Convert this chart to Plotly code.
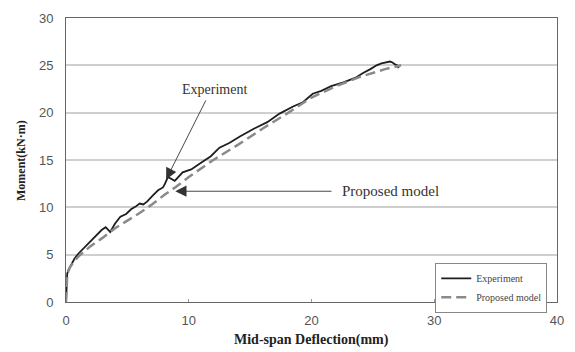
import plotly.graph_objects as go

# Experiment curve (mid-span deflection mm, moment kN·m)
exp_x = [0, 0.05, 0.1, 0.2, 0.4, 0.7, 1.0, 1.3, 1.75, 2.1, 2.56, 2.9, 3.23, 3.45, 3.6,
         4.0, 4.43, 4.9, 5.3, 5.64, 6.0, 6.3, 6.6, 7.1, 7.5, 7.9, 8.05, 8.3, 8.86, 9.5,
         10.2, 11.0, 11.8, 12.5, 13.3, 14.2, 15.3, 16.4, 17.4, 18.5, 19.3, 20.1, 20.8,
         21.6, 22.6, 23.6, 24.2, 24.8, 25.3, 25.7, 26.1, 26.4, 26.6, 26.8, 27.0, 27.1]
exp_y = [0, 1.5, 3.0, 3.4, 3.9, 4.6, 5.1, 5.5, 6.1, 6.6, 7.2, 7.6, 7.9, 7.6, 7.4,
         8.3, 9.0, 9.3, 9.8, 10.05, 10.4, 10.3, 10.6, 11.3, 11.8, 12.1, 12.45, 13.2, 12.8, 13.7,
         14.0, 14.7, 15.4, 16.3, 16.8, 17.5, 18.3, 19.0, 19.9, 20.65, 21.1, 22.0, 22.3,
         22.8, 23.2, 23.7, 24.2, 24.6, 25.0, 25.2, 25.3, 25.4, 25.3, 25.1, 25.0, 24.7]

# Proposed model curve
mod_x = [0, 0.05, 0.1, 0.3, 0.6, 1.0, 1.5, 2.0, 3.0, 4.0, 5.0, 6.0, 7.0, 8.0, 9.0,
         10.0, 12.0, 14.0, 16.0, 18.0, 20.0, 22.0, 24.0, 26.0, 27.3]
mod_y = [0, 1.5, 2.9, 3.6, 4.2, 4.8, 5.4, 5.9, 6.8, 7.8, 8.6, 9.4, 10.3, 11.3, 12.2,
         13.2, 15.0, 16.6, 18.3, 19.9, 21.6, 22.8, 23.8, 24.6, 25.0]

x_ticks = [0, 10, 20, 30, 40]
y_ticks = [0, 5, 10, 15, 20, 25, 30]

serif = "Liberation Serif"
sans = "Liberation Sans"

fig = go.Figure()
fig.add_trace(go.Scatter(x=exp_x, y=exp_y, mode="lines", name="Experiment",
                         line=dict(color="#1e1e1e", width=1.8)))
fig.add_trace(go.Scatter(x=mod_x, y=mod_y, mode="lines", name="Proposed model",
                         line=dict(color="#8a8a8a", width=2.5, dash="10px,5px")))

# Callouts
fig.add_annotation(x=8.16, y=12.95, ax=11.45, ay=21.45, axref="x", ayref="y",
                   xref="x", yref="y", text="", showarrow=True,
                   arrowhead=2, arrowsize=2.5, arrowwidth=0.9, arrowcolor="#333")
fig.add_annotation(x=12.1, y=22.4, xref="x", yref="y", text="Experiment",
                   showarrow=False, font=dict(family=serif, size=14, color="#333"))
fig.add_annotation(x=8.9, y=11.7, ax=21.75, ay=11.7, axref="x", ayref="y",
                   xref="x", yref="y", text="", showarrow=True,
                   arrowhead=2, arrowsize=2.5, arrowwidth=0.9, arrowcolor="#333")
fig.add_annotation(x=22.3, y=11.7, xref="x", yref="y", text="Proposed model",
                   xanchor="left", showarrow=False,
                   font=dict(family=serif, size=15, color="#333"))

# Axis titles
fig.add_annotation(x=0.5, y=-0.135, xref="paper", yref="paper", yanchor="middle",
                   text="<b>Mid-span Deflection(mm)</b>", showarrow=False,
                   font=dict(family=serif, size=14, color="#222"))
fig.add_annotation(x=-0.11, y=0.5, xref="paper", yref="paper", textangle=-90,
                   text="<b>Moment(kN·m)</b>", showarrow=False,
                   font=dict(family=serif, size=12, color="#222"))

fig.update_layout(
    width=575, height=352,
    margin=dict(l=66, r=11, t=13, b=50),
    paper_bgcolor="white", plot_bgcolor="white",
    showlegend=True,
    legend=dict(x=0.752, y=0.138, xanchor="left", yanchor="top",
                bordercolor="#888", borderwidth=1, bgcolor="white",
                font=dict(family=serif, size=10, color="#444"),
                tracegroupgap=0, itemwidth=30),
    xaxis=dict(range=[0, 40], tickmode="array", tickvals=x_ticks, showgrid=False,
               showline=True, mirror=True, linecolor="#666", linewidth=1,
               ticks="inside", ticklen=3, tickcolor="#999", ticklabelstandoff=6,
               tickfont=dict(family=sans, size=13, color="#555"), zeroline=False),
    yaxis=dict(range=[0, 30], tickmode="array", tickvals=y_ticks, showgrid=True,
               gridcolor="#cfcfcf", gridwidth=1.5,
               showline=True, mirror=True, linecolor="#666", linewidth=1,
               ticks="", ticklabelstandoff=9,
               tickfont=dict(family=sans, size=13, color="#555"), zeroline=False),
)

fig.write_html("out.html")
